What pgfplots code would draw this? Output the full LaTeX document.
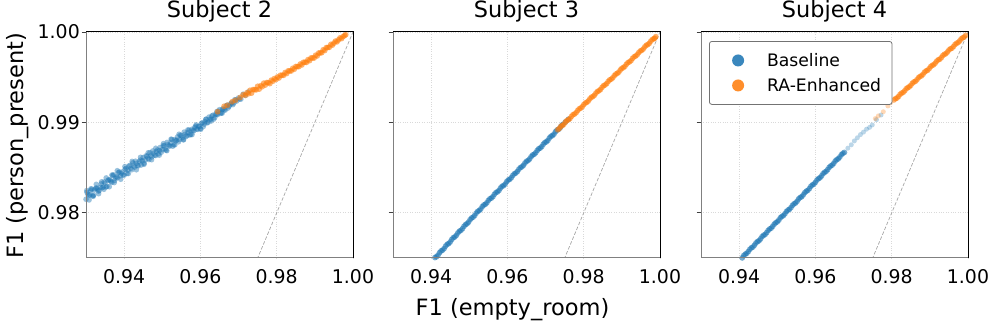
\documentclass[border=0pt]{standalone}
\usepackage{pgfplots}
\pgfplotsset{compat=1.18}
\usepackage{fontspec}
\setmainfont{DejaVu Sans}
\definecolor{c1}{HTML}{1F77B4}
\definecolor{c2}{HTML}{FF7F0E}
\newcommand\tickfont{\fontsize{18.9}{22}\selectfont}
\newcommand\titlefont{\fontsize{22.4}{26}\selectfont}
\newcommand\labfont{\fontsize{22.5}{26}\selectfont}
\newcommand\legfont{\fontsize{17.2}{20}\selectfont}
\pgfplotsset{
  panel/.style={
    width=267pt, height=226pt, scale only axis, anchor=south west,
    xmin=0.93, xmax=1.0, ymin=0.975, ymax=1.0,
    xtick={0.94,0.96,0.98,1.00}, xticklabels={\mbox{0.94},\mbox{0.96},\mbox{0.98},\mbox{1.00}},
    ytick={0.98,0.99,1.00}, ytick pos=left,
    grid=major, major grid style={dotted, gray!30, line width=0.6pt},
    axis line style={draw=none},
    tick align=outside, major tick length=4.5pt,
    xtick style={draw=none}, ytick style={black!75, line width=0.8pt},
    tick label style={font=\tickfont},
    /pgf/number format/assume math mode=true,
    xticklabel style={anchor=base, yshift=-21pt, inner sep=0pt},
    yticklabel style={anchor=east, inner sep=0pt, xshift=-1.5pt},
    title style={at={(0.5,1)}, anchor=base, yshift=8.7pt, font=\titlefont},
    after end axis/.code={
      \draw[gray, line width=1pt] (rel axis cs:0,1) -- (rel axis cs:0,0) -- (rel axis cs:1,0);
      \draw[black, line width=1pt] (rel axis cs:0,1) -- (rel axis cs:1,1) -- (rel axis cs:1,0);
    },
  },
  sc/.style={only marks, mark=*, mark size=2.8pt, forget plot, color=#1, mark options={fill=#1, draw opacity=0, fill opacity=0.45}},
  sd/.style={only marks, mark=*, mark size=2.9pt, forget plot, color=#1, mark options={fill=#1, draw opacity=0, fill opacity=0.6}},
  scl/.style={only marks, mark=*, mark size=2.5pt, forget plot, color=#1, mark options={fill=#1, draw opacity=0, fill opacity=0.3}},
  diag/.style={gray!70, dash pattern=on 3.5pt off 1.8pt, line width=0.7pt, forget plot},
}
\begin{document}
\begin{tikzpicture}
\useasboundingbox (0pt,0pt) rectangle (996pt,331pt);
% ---------------- Subject 2 ----------------
\begin{axis}[panel, at={(86pt,73pt)}, title={Subject 2}, yticklabels={\mbox{0.98},\mbox{0.99},\mbox{1.00}}]
\addplot[diag] coordinates {(0.97,0.97) (1.0,1.0)};
\addplot[sc=c1] coordinates {
(0.9295,0.98186)(0.9300,0.98150)(0.9305,0.98204)(0.9310,0.98198)(0.9315,0.98261)(0.9320,0.98195)(0.9325,0.98269)(0.9330,0.98263)(0.9335,0.98247)(0.9340,0.98320)
(0.9345,0.98284)(0.9350,0.98328)(0.9355,0.98292)(0.9360,0.98366)(0.9365,0.98349)(0.9370,0.98413)(0.9375,0.98357)(0.9380,0.98401)(0.9385,0.98445)(0.9390,0.98408)
(0.9395,0.98452)(0.9400,0.98416)(0.9405,0.98489)(0.9410,0.98471)(0.9415,0.98524)(0.9420,0.98476)(0.9425,0.98519)(0.9430,0.98571)(0.9435,0.98524)(0.9440,0.98566)
(0.9445,0.98529)(0.9450,0.98612)(0.9455,0.98584)(0.9460,0.98627)(0.9465,0.98589)(0.9470,0.98632)(0.9475,0.98684)(0.9480,0.98637)(0.9485,0.98679)(0.9490,0.98652)
(0.9495,0.98724)(0.9500,0.98697)(0.9505,0.98740)(0.9510,0.98692)(0.9515,0.98755)(0.9520,0.98738)(0.9525,0.98811)(0.9530,0.98753)(0.9535,0.98796)(0.9540,0.98839)
(0.9545,0.98811)(0.9550,0.98854)(0.9555,0.98807)(0.9560,0.98869)(0.9565,0.98852)(0.9570,0.98915)(0.9575,0.98867)(0.9580,0.98910)(0.9585,0.98943)(0.9590,0.98926)
(0.9595,0.98958)(0.9600,0.98931)(0.9605,0.98996)(0.9610,0.98981)(0.9615,0.99036)(0.9620,0.99001)(0.9625,0.99036)(0.9630,0.99071)(0.9635,0.99036)(0.9640,0.99091)
(0.9645,0.99086)(0.9650,0.99141)(0.9655,0.99106)(0.9660,0.99151)(0.9665,0.99136)(0.9670,0.99191)(0.9675,0.99176)(0.9680,0.99211)(0.9685,0.99196)(0.9690,0.99251)
(0.9695,0.99236)(0.9700,0.99271)(0.9706,0.99257)(0.9712,0.99312)(0.9718,0.99298)(0.9725,0.99336)
};
\addplot[sc=c1] coordinates {
(0.92975,0.98153)(0.93025,0.98227)(0.93075,0.98191)(0.93125,0.98245)(0.93175,0.98188)(0.93225,0.98252)(0.93275,0.98276)(0.93325,0.98240)(0.93375,0.98284)(0.93425,0.98277)
(0.93475,0.98341)(0.93525,0.98285)(0.93575,0.98359)(0.93625,0.98363)(0.93675,0.98336)(0.93725,0.98420)(0.93775,0.98384)(0.93825,0.98388)(0.93875,0.98452)(0.93925,0.98435)
(0.93975,0.98419)(0.94025,0.98482)(0.94075,0.98435)(0.94125,0.98517)(0.94175,0.98490)(0.94225,0.98552)(0.94275,0.98505)(0.94325,0.98548)(0.94375,0.98520)(0.94425,0.98583)
(0.94475,0.98575)(0.94525,0.98548)(0.94575,0.98630)(0.94625,0.98603)(0.94675,0.98665)(0.94725,0.98618)(0.94775,0.98660)(0.94825,0.98633)(0.94875,0.98695)(0.94925,0.98688)
(0.94975,0.98670)(0.95025,0.98743)(0.95075,0.98706)(0.95125,0.98779)(0.95175,0.98741)(0.95225,0.98774)(0.95275,0.98737)(0.95325,0.98810)(0.95375,0.98802)(0.95425,0.98785)
(0.95475,0.98858)(0.95525,0.98830)(0.95575,0.98893)(0.95625,0.98846)(0.95675,0.98888)(0.95725,0.98861)(0.95775,0.98924)(0.95825,0.98906)(0.95875,0.98959)(0.95925,0.98922)
(0.95975,0.98955)(0.96025,0.98989)(0.96075,0.98954)(0.96125,0.99009)(0.96175,0.98994)(0.96225,0.99059)(0.96275,0.99034)(0.96325,0.99079)(0.96375,0.99054)(0.96425,0.99089)
(0.96475,0.99124)(0.96525,0.99099)(0.96575,0.99144)(0.96625,0.99139)(0.96675,0.99184)(0.96725,0.99159)(0.96775,0.99194)(0.96825,0.99219)(0.96875,0.99214)(0.96925,0.99249)
(0.97025,0.99258)
};
\addplot[sc=c1] coordinates {
(0.9302,0.98246)(0.9308,0.98142)(0.9313,0.98266)(0.9319,0.98182)(0.9327,0.98315)(0.9333,0.98211)(0.9341,0.98343)(0.9347,0.98260)(0.9353,0.98386)(0.9361,0.98288)
(0.9368,0.98418)(0.9374,0.98334)(0.9382,0.98466)(0.9391,0.98371)(0.9402,0.98511)(0.9411,0.98434)(0.9421,0.98569)(0.9432,0.98476)(0.9443,0.98614)(0.9452,0.98536)
(0.9463,0.98664)(0.9472,0.98587)(0.9483,0.98714)(0.9492,0.98637)(0.9503,0.98765)(0.9512,0.98687)(0.9523,0.98815)(0.9533,0.98751)(0.9544,0.98869)(0.9556,0.98809)
(0.9567,0.98917)(0.9578,0.98865)(0.9589,0.98973)(0.9601,0.98924)(0.9614,0.99033)(0.9628,0.99015)(0.9643,0.99120)(0.9657,0.99102)
};
\addplot[sd=c2] coordinates {
(0.9645,0.99118)(0.9662,0.99178)(0.9671,0.99190)(0.9683,0.99228)(0.9692,0.99245)(0.9704,0.99275)(0.9712,0.99306)(0.9718,0.99300)
(0.9722,0.99328)(0.9726,0.99317)(0.9730,0.99355)(0.9734,0.99324)(0.9738,0.99363)(0.9742,0.99362)(0.9746,0.99360)(0.9750,0.99399)(0.9754,0.99368)(0.9758,0.99406)
(0.9762,0.99395)(0.9766,0.99434)(0.9770,0.99413)(0.9774,0.99441)(0.9778,0.99440)(0.9782,0.99429)(0.9786,0.99467)(0.9790,0.99456)(0.9794,0.99485)(0.9798,0.99474)
(0.9802,0.99503)(0.9806,0.99492)(0.9810,0.99522)(0.9814,0.99521)(0.9818,0.99521)(0.9822,0.99551)(0.9826,0.99540)(0.9830,0.99570)(0.9834,0.99569)(0.9838,0.99569)
(0.9842,0.99598)(0.9846,0.99588)(0.9850,0.99618)(0.9854,0.99617)(0.9858,0.99617)(0.9862,0.99646)(0.9866,0.99636)(0.9870,0.99665)(0.9874,0.99665)(0.9878,0.99664)
(0.9882,0.99694)(0.9886,0.99683)(0.9890,0.99713)(0.9894,0.99713)(0.9898,0.99712)(0.9902,0.99743)(0.9906,0.99735)(0.9910,0.99767)(0.9914,0.99769)(0.9918,0.99771)
(0.9922,0.99803)(0.9926,0.99795)(0.9930,0.99827)(0.9934,0.99829)(0.9938,0.99831)(0.9942,0.99863)(0.9946,0.99855)(0.9950,0.99877)(0.9954,0.99899)(0.9958,0.99891)
(0.9962,0.99913)(0.9966,0.99935)(0.9970,0.99927)(0.9974,0.99949)(0.9978,0.99961)(0.9981,0.99970)
};
\end{axis}
% ---------------- Subject 3 ----------------
\begin{axis}[panel, at={(393pt,73pt)}, title={Subject 3}, yticklabels={}]
\addplot[diag] coordinates {(0.97,0.97) (1.0,1.0)};
\addplot[sd=c1] coordinates {
(0.9404,0.97470)(0.9410,0.97505)(0.9418,0.97531)(0.9426,0.97578)(0.9434,0.97604)(0.9442,0.97651)(0.9450,0.97677)(0.9458,0.97724)(0.9466,0.97750)(0.9474,0.97796)
(0.9482,0.97823)(0.9490,0.97869)(0.9498,0.97896)(0.9506,0.97942)(0.9514,0.97969)(0.9522,0.98015)(0.9530,0.98041)(0.9538,0.98086)(0.9546,0.98110)(0.9554,0.98155)
(0.9562,0.98179)(0.9570,0.98224)(0.9578,0.98248)(0.9586,0.98293)(0.9594,0.98317)(0.9602,0.98362)(0.9610,0.98387)(0.9618,0.98431)(0.9626,0.98456)(0.9634,0.98500)
(0.9642,0.98525)(0.9650,0.98569)(0.9658,0.98594)(0.9666,0.98639)(0.9674,0.98663)(0.9682,0.98708)(0.9690,0.98732)(0.9698,0.98777)(0.9706,0.98801)(0.9714,0.98846)
(0.9722,0.98870)(0.9730,0.98915)(0.9738,0.98939)(0.9745,0.98977)(0.9752,0.99005)(0.9760,0.99035)
};
\addplot[sd=c1] coordinates {
(0.9414,0.97514)(0.9422,0.97559)(0.9430,0.97587)(0.9438,0.97632)(0.9446,0.97660)(0.9454,0.97705)(0.9462,0.97733)(0.9470,0.97777)(0.9478,0.97806)(0.9486,0.97850)
(0.9494,0.97879)(0.9502,0.97923)(0.9510,0.97952)(0.9518,0.97996)(0.9526,0.98025)(0.9534,0.98068)(0.9542,0.98094)(0.9550,0.98137)(0.9558,0.98163)(0.9566,0.98206)
(0.9574,0.98232)(0.9582,0.98275)(0.9590,0.98301)(0.9598,0.98344)(0.9606,0.98371)(0.9614,0.98413)(0.9622,0.98440)(0.9630,0.98482)(0.9638,0.98509)(0.9646,0.98551)
(0.9654,0.98578)(0.9662,0.98620)(0.9670,0.98647)(0.9678,0.98689)(0.9686,0.98716)(0.9694,0.98759)(0.9702,0.98785)(0.9710,0.98828)(0.9718,0.98854)(0.9726,0.98897)
(0.9734,0.98923)(0.9741,0.98960)
};
\addplot[sd=c2] coordinates {
(0.9732,0.98918)(0.9736,0.98932)
(0.9740,0.98957)(0.9748,0.98979)(0.9756,0.99021)(0.9764,0.99043)(0.9772,0.99085)(0.9780,0.99107)(0.9788,0.99149)(0.9796,0.99172)(0.9804,0.99214)(0.9812,0.99236)
(0.9820,0.99278)(0.9828,0.99300)(0.9836,0.99342)(0.9844,0.99364)(0.9852,0.99406)(0.9860,0.99428)(0.9868,0.99470)(0.9876,0.99492)(0.9884,0.99534)(0.9892,0.99556)
(0.9900,0.99598)(0.9908,0.99620)(0.9916,0.99661)(0.9924,0.99683)(0.9932,0.99725)(0.9940,0.99747)(0.9948,0.99789)(0.9956,0.99811)(0.9964,0.99853)(0.9972,0.99875)
(0.9980,0.99917)(0.9986,0.99931)(0.9989,0.99948)
};
\addplot[sd=c2] coordinates {
(0.9744,0.98965)(0.9752,0.99003)(0.9760,0.99029)(0.9768,0.99067)(0.9776,0.99093)(0.9784,0.99131)(0.9792,0.99158)(0.9800,0.99196)(0.9808,0.99222)(0.9816,0.99260)
(0.9824,0.99286)(0.9832,0.99324)(0.9840,0.99350)(0.9848,0.99388)(0.9856,0.99414)(0.9864,0.99452)(0.9872,0.99478)(0.9880,0.99516)(0.9888,0.99542)(0.9896,0.99580)
(0.9904,0.99606)(0.9912,0.99644)(0.9920,0.99670)(0.9928,0.99708)(0.9936,0.99734)(0.9944,0.99771)(0.9952,0.99797)(0.9960,0.99835)(0.9968,0.99861)(0.9976,0.99899)
(0.9984,0.99926)
};
\end{axis}
% ---------------- Subject 4 ----------------
\begin{axis}[panel, at={(701pt,73pt)}, title={Subject 4}, yticklabels={},
  legend style={at={(0.03,0.96)}, anchor=north west, draw=black!55, rounded corners=2.5pt,
    line width=0.8pt, fill=white, inner xsep=0pt, inner ysep=6.5pt, font=\legfont,
    row sep=0pt, column sep=0pt, nodes={inner sep=0pt, draw=none, fill=none}},
  legend cell align=left,
  legend image code/.code={\path[draw=none, fill=none] (0pt,-12.5pt) rectangle (57.7pt,12.5pt); \draw[#1] plot coordinates {(28.7pt,0pt)};},
]
\addplot[diag] coordinates {(0.97,0.97) (1.0,1.0)};
\addplot[sd=c1] coordinates {
(0.9404,0.97482)(0.9412,0.97527)(0.9420,0.97552)(0.9428,0.97596)(0.9436,0.97621)(0.9444,0.97666)(0.9452,0.97691)(0.9460,0.97736)(0.9468,0.97760)(0.9476,0.97805)
(0.9484,0.97830)(0.9492,0.97875)(0.9500,0.97900)(0.9508,0.97945)(0.9516,0.97969)(0.9524,0.98014)(0.9532,0.98039)(0.9540,0.98084)(0.9548,0.98109)(0.9556,0.98154)
(0.9564,0.98178)(0.9572,0.98223)(0.9580,0.98248)(0.9588,0.98293)(0.9596,0.98318)(0.9604,0.98363)(0.9612,0.98388)(0.9620,0.98433)(0.9628,0.98458)(0.9636,0.98503)
(0.9644,0.98528)(0.9652,0.98573)(0.9660,0.98598)(0.9668,0.98643)(0.9676,0.98668)
};
\addplot[sd=c1] coordinates {
(0.9408,0.97501)(0.9416,0.97542)(0.9424,0.97571)(0.9432,0.97612)(0.9440,0.97641)(0.9448,0.97681)(0.9456,0.97710)(0.9464,0.97751)(0.9472,0.97780)(0.9480,0.97821)
(0.9488,0.97850)(0.9496,0.97890)(0.9504,0.97919)(0.9512,0.97960)(0.9520,0.97989)(0.9528,0.98030)(0.9536,0.98058)(0.9544,0.98099)(0.9552,0.98128)(0.9560,0.98169)
(0.9568,0.98198)(0.9576,0.98238)(0.9584,0.98267)(0.9592,0.98308)(0.9600,0.98337)(0.9608,0.98378)(0.9616,0.98407)(0.9624,0.98448)(0.9632,0.98477)(0.9640,0.98518)
(0.9648,0.98547)(0.9656,0.98588)(0.9664,0.98617)(0.9672,0.98658)
};
\addplot[scl=c1] coordinates {
(0.9685,0.98715)(0.9694,0.98752)(0.9702,0.98795)(0.9710,0.98830)(0.9718,0.98865)(0.9726,0.98893)(0.9734,0.98925)(0.9742,0.98945)(0.9749,0.98972)(0.9760,0.99030)(0.9772,0.99082)
};
\addplot[scl=c2] coordinates {
(0.9757,0.99042)(0.9765,0.99072)(0.9778,0.99118)(0.9790,0.99182)(0.9798,0.99222)
};
\addplot[sd=c2] coordinates {
(0.9806,0.99249)(0.9814,0.99270)(0.9822,0.99311)(0.9830,0.99332)(0.9838,0.99372)(0.9846,0.99393)(0.9854,0.99433)(0.9862,0.99454)(0.9870,0.99494)(0.9878,0.99515)
(0.9886,0.99556)(0.9894,0.99576)(0.9902,0.99617)(0.9910,0.99638)(0.9918,0.99678)(0.9926,0.99699)(0.9934,0.99740)(0.9942,0.99760)(0.9950,0.99801)(0.9958,0.99821)
(0.9966,0.99862)(0.9974,0.99883)(0.9982,0.99923)(0.9990,0.99944)(0.9994,0.99963)
};
\addplot[sd=c2] coordinates {
(0.9810,0.99263)(0.9818,0.99287)(0.9826,0.99324)(0.9834,0.99349)(0.9842,0.99385)(0.9850,0.99410)(0.9858,0.99447)(0.9866,0.99471)(0.9874,0.99508)(0.9882,0.99532)
(0.9890,0.99569)(0.9898,0.99594)(0.9906,0.99630)(0.9914,0.99655)(0.9922,0.99692)(0.9930,0.99716)(0.9938,0.99753)(0.9946,0.99778)(0.9954,0.99814)(0.9962,0.99839)
(0.9970,0.99875)(0.9978,0.99900)(0.9986,0.99936)
};
\addlegendimage{only marks, mark=*, mark size=6pt, color=c1, mark options={fill=c1, draw opacity=0, fill opacity=0.88}}
\addlegendentry{Baseline}
\addlegendimage{only marks, mark=*, mark size=6pt, color=c2, mark options={fill=c2, draw opacity=0, fill opacity=0.88}}
\addlegendentry{RA-Enhanced\hspace*{11pt}}
\end{axis}
\node[anchor=base, font=\labfont] at (512.5pt,15pt) {F1 (empty\_room)};
\node[anchor=base, rotate=90, font=\labfont] at (23.4pt,185.2pt) {F1 (person\_present)};
\end{tikzpicture}
\end{document}
